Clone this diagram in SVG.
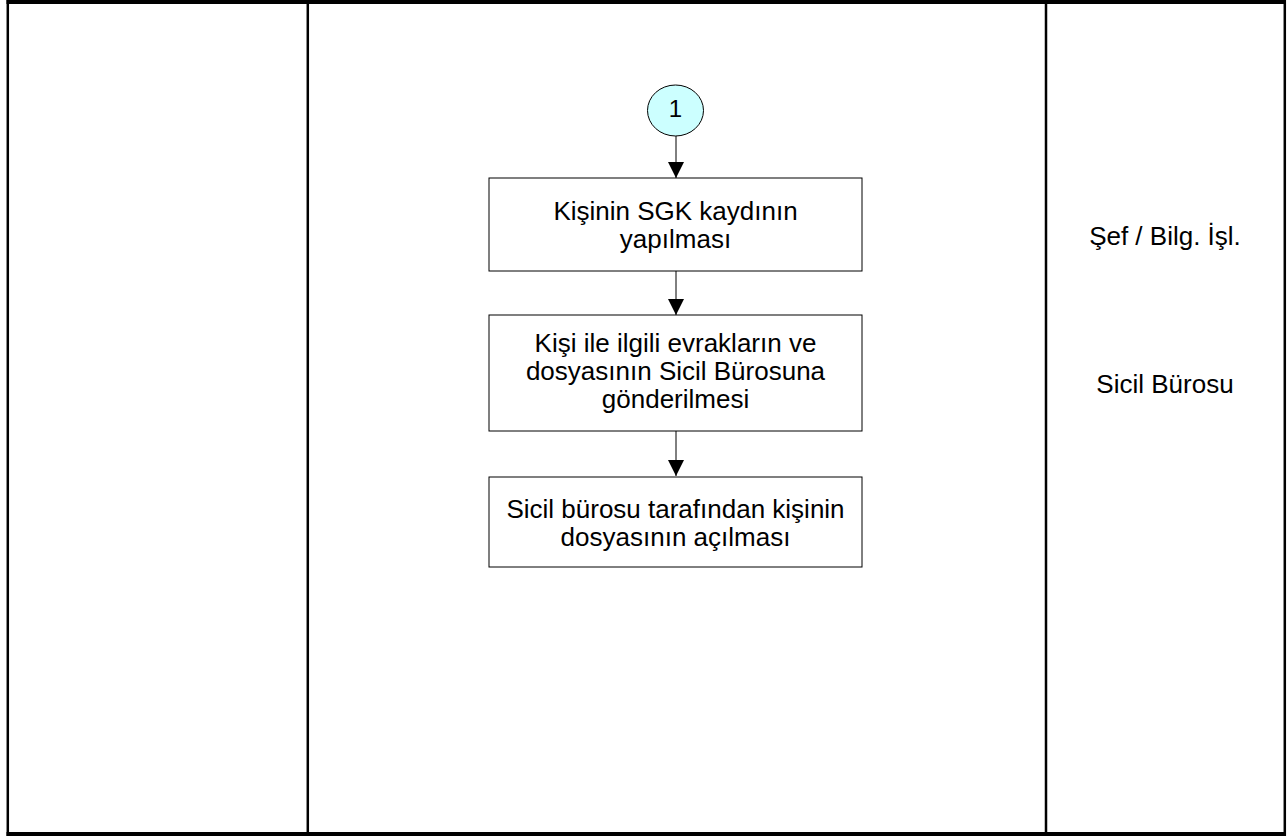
<svg xmlns="http://www.w3.org/2000/svg" width="1288" height="837" viewBox="0 0 1288 837">
<style>
.frame{stroke:#000;fill:none}
.box{fill:#fff;stroke:#000;stroke-width:1}
.t{font-family:"Liberation Sans",Arial,sans-serif;font-size:26px;fill:#000;text-anchor:middle}
.num{font-family:"Liberation Sans",Arial,sans-serif;font-size:24px;fill:#000;text-anchor:middle}
.conn{stroke:#000;stroke-width:1;fill:none}
</style>
<defs>
<marker id="ah" markerUnits="userSpaceOnUse" markerWidth="16" markerHeight="16" refX="16" refY="8" orient="auto" viewBox="0 0 16 16">
<path d="M0,0 L16,8 L0,16 z" fill="#000"/>
</marker>
</defs>
<rect width="1288" height="837" fill="#fff"/>
<g id="lanes">
<line class="frame" x1="6.5" y1="2" x2="1286" y2="2" stroke-width="4"/>
<line class="frame" x1="6.5" y1="834" x2="1286" y2="834" stroke-width="4"/>
<line class="frame" x1="7.8" y1="0" x2="7.8" y2="836" stroke-width="2.5"/>
<line class="frame" x1="307.8" y1="0" x2="307.8" y2="836" stroke-width="2.5"/>
<line class="frame" x1="1046" y1="0" x2="1046" y2="836" stroke-width="2.5"/>
<line class="frame" x1="1284.8" y1="0" x2="1284.8" y2="836" stroke-width="2.5"/>
<text class="t" x="1165" y="245">Şef / Bilg. İşl.</text>
<text class="t" x="1165" y="393">Sicil Bürosu</text>
</g>
<g id="connectors">
<line class="conn" x1="676" y1="136" x2="676" y2="178" marker-end="url(#ah)"/>
<line class="conn" x1="676" y1="271" x2="676" y2="315" marker-end="url(#ah)"/>
<line class="conn" x1="676" y1="431" x2="676" y2="476" marker-end="url(#ah)"/>
</g>
<g id="start">
<ellipse cx="675.5" cy="110.5" rx="28" ry="25.5" fill="#ccffff" stroke="#000" stroke-width="1"/>
<text class="num" x="675.5" y="117">1</text>
</g>
<g id="step1">
<rect class="box" x="489" y="178" width="373" height="93"/>
<text class="t" x="675.5" y="220">Kişinin SGK kaydının</text>
<text class="t" x="675.5" y="248">yapılması</text>
</g>
<g id="step2">
<rect class="box" x="489" y="315" width="373" height="116"/>
<text class="t" x="675.5" y="352">Kişi ile ilgili evrakların ve</text>
<text class="t" x="675.5" y="380">dosyasının Sicil Bürosuna</text>
<text class="t" x="675.5" y="408">gönderilmesi</text>
</g>
<g id="step3">
<rect class="box" x="489" y="477" width="373" height="90"/>
<text class="t" x="675.5" y="517.5">Sicil bürosu tarafından kişinin</text>
<text class="t" x="675.5" y="545.5">dosyasının açılması</text>
</g>
</svg>
